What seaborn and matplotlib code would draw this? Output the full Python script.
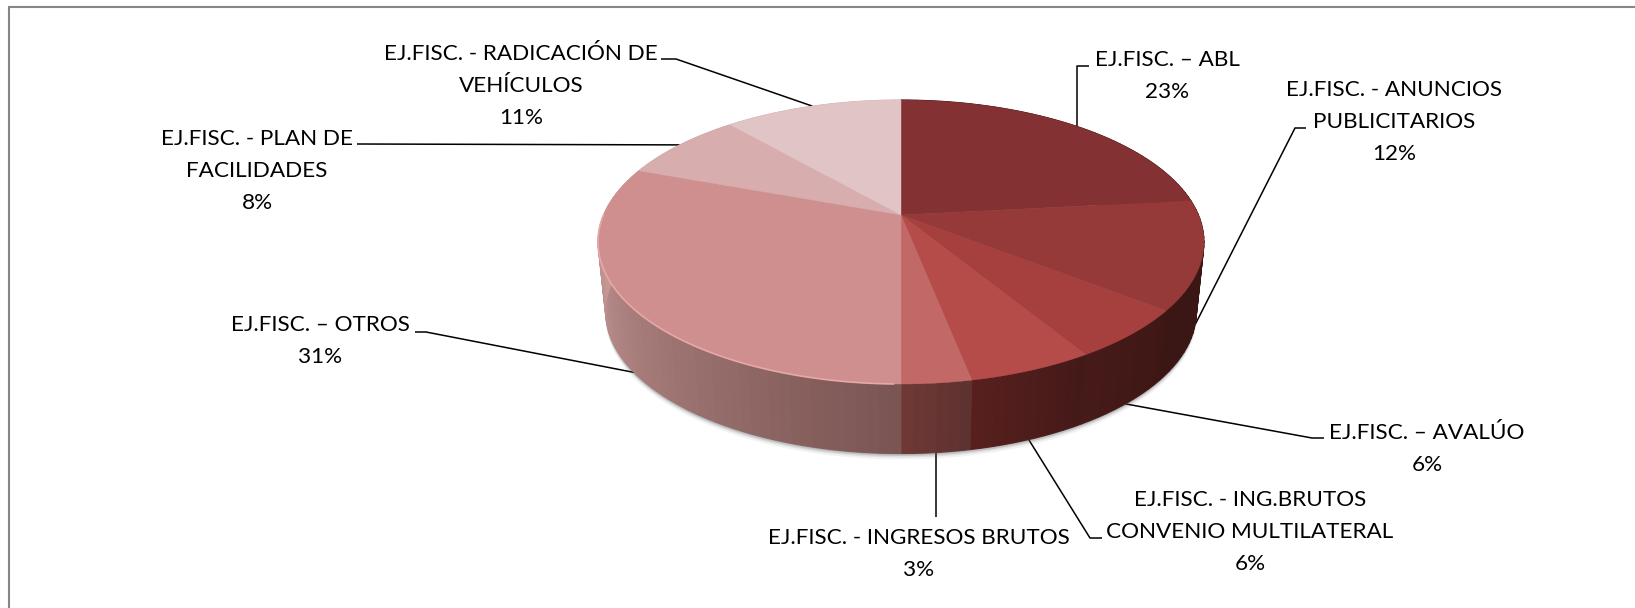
import matplotlib
matplotlib.use('Agg')
import matplotlib.pyplot as plt
import numpy as np
import seaborn as sns

CATEGORIES = [
    'EJ.FISC. – ABL',
    'EJ.FISC. - ANUNCIOS\nPUBLICITARIOS',
    'EJ.FISC. – AVALÚO',
    'EJ.FISC. - ING.BRUTOS\nCONVENIO MULTILATERAL',
    'EJ.FISC. - INGRESOS BRUTOS',
    'EJ.FISC. – OTROS',
    'EJ.FISC. - PLAN DE\nFACILIDADES',
    'EJ.FISC. - RADICACIÓN DE\nVEHÍCULOS',
]
VALUES = [23.3, 12.3, 5.7, 5.6, 3.1, 30.6, 8.0, 11.4]

TOP_COLORS = ['#843133', '#963a39', '#a5403f', '#b64c4a', '#c26866', '#cf8f8e', '#d7adad', '#e1c5c6']
SIDE_START = ['#3a1614', '#3a1614', '#3e1715', '#431a18', '#5e3230', '#7a5553', '#d8a8a6', '#d8a8a6']
SIDE_END = ['#3a1614', '#3a1614', '#461a18', '#571f1d', '#6e3835', '#d8a8a6', '#d8a8a6', '#d8a8a6']

# label centre, then the leader's way from the pie to the label
LABEL_POS = [(1167, 76), (1394, 122), (1427, 449), (1250, 532), (919, 554), (320, 341), (257, 171), (521, 86)]
LEADERS = [
    [(None, 66), (1089, 66)],
    [(1295, 128), (1306, 128)],
    [(1312, 438), (1324, 438)],
    [(1090, 538), (1102, 538)],
    [(None, 517)],
    [(426, 332), (415, 332)],
    [(357, 144)],
    [(676, 59), (661, 59)],
]
LEADER_NUDGE = [2, 0, 0, 0, 0, 0, 0, 0]
ON_TOP_RIM = [True, False, False, False, False, False, True, True]

CX, APEX_Y = 901, 215
A, B, K = 297.5, 136.9, 0.19
DEPTH, SHRINK = 69.5, 0.975


def project(theta, depth=0.0):
    u, v = np.sin(theta), np.cos(theta)
    d = 1 + K * v
    x = CX + A * (1 - (1 - SHRINK) * depth) * u / d
    y = APEX_Y - B * v / d + DEPTH * depth
    return x, y


sns.set_theme(style='white')
plt.rcParams['font.family'] = ['Lato', 'DejaVu Sans']

fig = plt.figure(figsize=(16.35, 6.08), dpi=100)
ax = fig.add_axes([0, 0, 1, 1])
ax.set_xlim(0, 1635)
ax.set_ylim(608, 0)
ax.axis('off')

# only the left and top of the chart frame are in the crop
ax.plot([9, 9, 1635], [608, 7, 7], color='#868686', lw=1.5, zorder=1, solid_joinstyle='miter')

edges = 2 * np.pi * np.cumsum([0] + VALUES) / sum(VALUES)
mids = (edges[:-1] + edges[1:]) / 2

# soft shadow under the bottom rim
ring = np.linspace(0, 2 * np.pi, 361)
rx, ry = project(ring, 1)
for off, alpha in [(6, 0.07), (4, 0.12), (2.5, 0.2), (1, 0.3)]:
    ax.fill(rx, ry + off, color='#555555', alpha=alpha, lw=0, zorder=2.7)

# side wall, split in facets for the shading
for i in range(len(VALUES)):
    n = max(int(VALUES[i] * 2), 4)
    steps = np.linspace(edges[i], edges[i + 1], n + 1)
    shades = sns.blend_palette([SIDE_START[i], SIDE_END[i]], n)
    for j in range(n):
        t = np.linspace(steps[j], steps[j + 1], 6)
        x0, y0 = project(t, 0)
        x1, y1 = project(t[::-1], 1)
        ax.fill(np.r_[x0, x1], np.r_[y0, y1], facecolor=shades[j], edgecolor=shades[j], lw=0.7, zorder=3)

# top face
for i in range(len(VALUES)):
    t = np.linspace(edges[i], edges[i + 1], 90)
    x, y = project(t)
    ax.fill(np.r_[CX, x], np.r_[APEX_Y, y], facecolor=TOP_COLORS[i], edgecolor=TOP_COLORS[i], lw=0.3, zorder=4)

# light bevel along the front rim
t = np.linspace(edges[5] + 0.02, edges[6] - 0.35, 120)
ax.plot(*project(t), color='#e6a8a8', lw=1.2, zorder=5)

# leaders and labels
for i, label in enumerate(CATEGORIES):
    sx, sy = project(mids[i], 0 if ON_TOP_RIM[i] else 1)
    sx += LEADER_NUDGE[i]
    xs, ys = [sx], [sy]
    for px, py in LEADERS[i]:
        xs.append(sx if px is None else px)
        ys.append(py)
    ax.plot(xs, ys, color='black', lw=1.1, zorder=2.5, solid_capstyle='butt')
    ax.text(*LABEL_POS[i], f'{label}\n{VALUES[i]:.0f}%', ha='center', va='center', ma='center',
            fontsize=16.2, linespacing=1.78, color='black', zorder=6)

fig.savefig('out.png', dpi=100, facecolor='white')
